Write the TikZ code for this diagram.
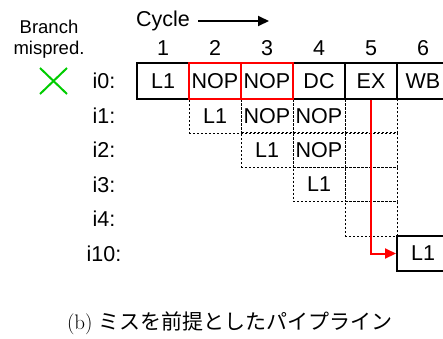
\documentclass[tikz,border=0pt]{standalone}
\usepackage{fontspec}
\newfontfamily\hv{Liberation Sans}
\newfontfamily\cjk{Noto Sans CJK JP}
\usetikzlibrary{arrows.meta}
\definecolor{xgreen}{RGB}{0,204,0}
\begin{document}
\begin{tikzpicture}[x=1pt,y=-1pt,
  lab/.style={font=\hv\fontsize{21.5}{24}\selectfont, inner sep=0pt},
  smalllab/.style={font=\hv\fontsize{18.5}{21}\selectfont, inner sep=0pt},
  solidcell/.style={draw=black, line width=2pt, minimum width=52pt, minimum height=36pt, inner sep=0pt, font=\hv\fontsize{21.5}{24}\selectfont},
  dashcell/.style={draw=black, line width=0.9pt, dash pattern=on 2pt off 2pt, minimum width=52pt, minimum height=34.6pt, inner sep=0pt, font=\hv\fontsize{21.5}{24}\selectfont},
  redbox/.style={draw=red, line width=2pt, minimum width=52pt, minimum height=36pt, inner sep=0pt},
  redarrow/.style={draw=red, line width=2pt, -{Triangle[length=11pt,width=10pt]}},
  cycarrow/.style={draw=black, line width=2pt, -{Triangle[length=11pt,width=10pt]}}
]
\useasboundingbox (0,0) rectangle (443,338);
\clip (0,0) rectangle (443,338);

% header
\node[smalllab] (br1) at (49,27) {Branch};
\node[smalllab] (br2) at (49,50) {mispred.};
\node[lab] (cyc) at (163,21) {Cycle};
\coordinate (ca) at (198,21);
\coordinate (cb) at (269,21);
\draw[cycarrow] (ca) -- (cb);
\foreach \n/\x in {1/163,2/215,3/267,4/319,5/371,6/423}{
  \node[lab] (n\n) at (\x,48) {\n};
}

% green cross
\coordinate (xa) at (40,68);
\coordinate (xb) at (67,94);
\coordinate (xc) at (40,94);
\coordinate (xd) at (67,68);
\draw[xgreen, line width=2pt] (xa) -- (xb) (xc) -- (xd);

% row labels
\node[lab] (l0) at (104,81) {i0:};
\node[lab] (l1) at (104,116) {i1:};
\node[lab] (l2) at (104,150) {i2:};
\node[lab] (l3) at (104,184.5) {i3:};
\node[lab] (l4) at (104,219) {i4:};
\node[lab] (l10) at (104,253.5) {i10:};

% dashed cells
\node[dashcell] (d12) at (215,116) {L1};
\node[dashcell] (d13) at (267,116) {NOP};
\node[dashcell] (d14) at (319,116) {NOP};
\node[dashcell] (d15) at (371,116) {};
\node[dashcell] (d23) at (267,150) {L1};
\node[dashcell] (d24) at (319,150) {NOP};
\node[dashcell] (d25) at (371,150) {};
\node[dashcell] (d34) at (319,184.5) {L1};
\node[dashcell] (d35) at (371,184.5) {};
\node[dashcell] (d45) at (371,219) {};

% i0 row
\node[solidcell] (c01) at (163,81) {L1};
\node[solidcell] (c02) at (215,81) {NOP};
\node[solidcell] (c03) at (267,81) {NOP};
\node[solidcell] (c04) at (319,81) {DC};
\node[solidcell] (c05) at (371,81) {EX};
\node[solidcell] (c06) at (423,81) {WB};
\node[redbox] (r02) at (c02) {};
\node[redbox] (r03) at (c03) {};

% i10
\node[solidcell, minimum height=35pt] (t10) at (423,253.5) {L1};

% red arrow
\draw[redarrow] (c05.south) -- (c05.south |- t10.west) -- (t10.west);

% caption
\node[inner sep=0pt, font=\fontsize{21}{24}\selectfont] (cap) at (230,323) {(b) {\cjk ミスを前提としたパイプライン}};
\end{tikzpicture}
\end{document}
